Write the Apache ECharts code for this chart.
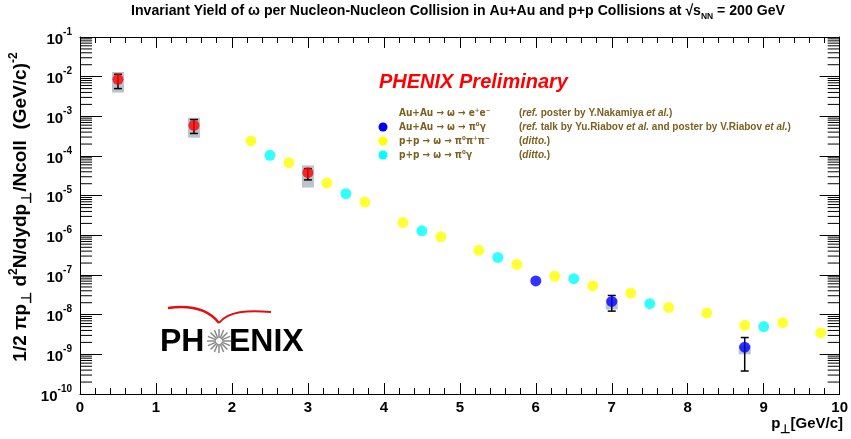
<!DOCTYPE html>
<html><head><meta charset="utf-8">
<script src="https://cdn.jsdelivr.net/npm/echarts@6/dist/echarts.min.js"></script>
<style>html,body{margin:0;padding:0;background:#fff}#c{width:851px;height:439px}</style>
</head><body><div id="c"></div>
<script>
// ---- data ----
const xTicks = [0,1,2,3,4,5,6,7,8,9,10];
const yDecades = [1e-10,1e-9,1e-8,1e-7,1e-6,1e-5,1e-4,1e-3,1e-2,1e-1];

// Au+Au -> omega -> e+e- (red)
const aaEePt   = [0.5, 1.5, 3.0];
const aaEeY    = [8.6e-3, 5.9e-4, 3.8e-5];
const aaEeLo   = [5.0e-3, 3.7e-4, 2.5e-5];
const aaEeHi   = [1.15e-2, 8.3e-4, 4.8e-5];
const aaEeSysLo = [3.98e-3, 2.9e-4, 1.6e-5];
const aaEeSysHi = [1.31e-2, 9.2e-4, 5.8e-5];

// Au+Au -> omega -> pi0 gamma (blue)
const aaPgPt = [6.0, 7.0, 8.75];
const aaPgY  = [7.1e-8, 2.15e-8, 1.51e-9];
const aaPgErrPt = [7.0, 8.75];
const aaPgLo = [1.23e-8, 3.8e-10];
const aaPgHi = [3.05e-8, 2.65e-9];
const aaPgSysLo = [1.35e-8, 1.0e-9];
const aaPgSysHi = [2.4e-8, 1.7e-9];

// p+p -> omega -> pi0 pi+ pi- (yellow)
const pp3Pt = [2.25,2.75,3.25,3.75,4.25,4.75,5.25,5.75,6.25,6.75,7.25,7.75,8.25,8.75,9.25,9.75];
const pp3Y  = [2.4e-4,6.8e-5,2.1e-5,6.9e-6,2.1e-6,9.2e-7,4.2e-7,1.85e-7,9.3e-8,5.3e-8,3.5e-8,1.52e-8,1.1e-8,5.4e-9,6.3e-9,3.5e-9];

// p+p -> omega -> pi0 gamma (cyan)
const ppPgPt = [2.5,3.5,4.5,5.5,6.5,7.5,9.0];
const ppPgY  = [1.04e-4,1.12e-5,1.3e-6,2.78e-7,8.1e-8,1.89e-8,5.0e-9];

// ---- helpers ----
const FONT = 'Liberation Sans';
const zip2 = (a,b) => a.map((v,i)=>[v,b[i]]);
const zip3 = (a,b,c) => a.map((v,i)=>[v,b[i],c[i]]);
const minorVals = [];
for (let k = 0; k < yDecades.length-1; k++) for (let m = 2; m <= 9; m++) minorVals.push(yDecades[k]*m);

const chart = echarts.init(document.getElementById('c'));

function errRender(params, api) {
  const x = api.value(0), lo = api.value(1), hi = api.value(2);
  const a = api.coord([x, lo]), b = api.coord([x, hi]);
  const st = {stroke:'#000', lineWidth:1.5};
  return {type:'group', children:[
    {type:'line', shape:{x1:a[0],y1:a[1],x2:b[0],y2:b[1]}, style:st},
    {type:'line', shape:{x1:a[0]-4,y1:a[1],x2:a[0]+4,y2:a[1]}, style:st},
    {type:'line', shape:{x1:b[0]-4,y1:b[1],x2:b[0]+4,y2:b[1]}, style:st}
  ]};
}
function sysRender(params, api) {
  const x = api.value(0), lo = api.value(1), hi = api.value(2);
  const a = api.coord([x, lo]), b = api.coord([x, hi]);
  return {type:'rect', shape:{x:a[0]-6, y:b[1], width:12, height:a[1]-b[1]}, style:{fill:'#b9c4cc'}};
}
function minorRender(params, api) {
  const v = api.value(0);
  const l = api.coord([0, v]), r = api.coord([10, v]);
  const st = {stroke:'#000', lineWidth:1};
  return {type:'group', children:[
    {type:'line', shape:{x1:l[0],y1:l[1],x2:l[0]+12,y2:l[1]}, style:st},
    {type:'line', shape:{x1:r[0],y1:r[1],x2:r[0]-12,y2:r[1]}, style:st}
  ]};
}

const yLabelRich = {
  b:{fontFamily:FONT, fontWeight:'bold', fontSize:15, color:'#000', lineHeight:20, verticalAlign:'bottom'},
  s:{fontFamily:FONT, fontWeight:'bold', fontSize:10, color:'#000', lineHeight:12, verticalAlign:'top'}
};

const legendRows = [
  {y:113, color:null, a:'Au+Au \u2192 \u03c9 \u2192 e\u207ae\u207b', b:'({i|ref.} poster by Y.Nakamiya {i|et al.})'},
  {y:127, color:'#0000ff', a:'Au+Au \u2192 \u03c9 \u2192 \u03c0\u2070\u03b3', b:'({i|ref.} talk by Yu.Riabov {i|et al.} and poster by V.Riabov {i|et al.})'},
  {y:141, color:'#ffff00', a:'p+p \u2192 \u03c9 \u2192 \u03c0\u2070\u03c0\u207a\u03c0\u207b', b:'({i|ditto.})'},
  {y:155, color:'#00ffff', a:'p+p \u2192 \u03c9 \u2192 \u03c0\u2070\u03b3', b:'({i|ditto.})'}
];
const LEGC = '#7d5f1f';
const graphics = [];
legendRows.forEach(r => {
  if (r.color) graphics.push({type:'circle', shape:{cx:383, cy:r.y, r:4.5}, style:{fill:r.color}, z:10});
  graphics.push({type:'text', x:399, y:r.y, style:{text:r.a, fill:LEGC, font:'bold 10px "DejaVu Sans Condensed", '+FONT, verticalAlign:'middle'}, z:10});
  graphics.push({type:'text', x:519, y:r.y, style:{text:r.b, fill:LEGC, font:'bold 10px '+FONT, verticalAlign:'middle',
    rich:{i:{fontStyle:'italic', fontWeight:'bold', fontSize:10, fontFamily:FONT, fill:LEGC, color:LEGC}}}, z:10});
});
// PHENIX Preliminary
graphics.push({type:'text', x:379, y:82, style:{text:'PHENIX Preliminary', fill:'#ff0000', font:'italic bold 20px '+FONT, verticalAlign:'middle'}, z:10});
// Title
graphics.push({type:'text', x:458, y:12, originX:0, originY:0, scaleX:0.94, style:{
  text:'{t|Invariant Yield of \u03c9 per Nucleon-Nucleon Collision in Au+Au and p+p Collisions at \u221as}{sub|NN}{t| = 200 GeV}',
  align:'center', verticalAlign:'middle',
  rich:{t:{fontFamily:FONT, fontWeight:'bold', fontSize:15, color:'#34349a', lineHeight:18, verticalAlign:'top'},
        sub:{fontFamily:FONT, fontWeight:'bold', fontSize:9, color:'#34349a', lineHeight:18, verticalAlign:'bottom'}}
}, z:10});
// Y axis name
graphics.push({type:'text', x:21, y:207, rotation:Math.PI/2, style:{
  text:'{b|1/2 \u03c0p}{sub|\u22a5}{b| d}{sup|2}{b|N/dydp}{sub|\u22a5}{b|/Ncoll  (GeV/c)}{sup|-2}',
  align:'center', verticalAlign:'middle',
  rich:{b:{fontFamily:FONT, fontWeight:'bold', fontSize:19, color:'#000', lineHeight:26, verticalAlign:'middle'},
        sup:{fontFamily:FONT, fontWeight:'bold', fontSize:12, color:'#000', lineHeight:26, verticalAlign:'top'},
        sub:{fontFamily:FONT, fontWeight:'bold', fontSize:14, color:'#000', lineHeight:26, verticalAlign:'bottom'}}
}, z:10});
// X axis name
graphics.push({type:'text', x:843, y:424, style:{
  text:'{b|p}{sub|\u22a5}{b|[GeV/c]}', align:'right', verticalAlign:'middle',
  rich:{b:{fontFamily:FONT, fontWeight:'bold', fontSize:15, color:'#000', lineHeight:22, verticalAlign:'middle'},
        sub:{fontFamily:FONT, fontWeight:'bold', fontSize:12, color:'#000', lineHeight:24, verticalAlign:'bottom'}}
}, z:10});
// PHENIX logo
graphics.push({type:'bezierCurve', shape:{x1:168, y1:308, cpx1:190, cpy1:305, cpx2:208, cpy2:309, x2:219, y2:323},
  style:{stroke:'#e01010', lineWidth:2.5, fill:null}, z:10});
graphics.push({type:'bezierCurve', shape:{x1:219, y1:323, cpx1:228, cpy1:311, cpx2:248, cpy2:310, x2:271, y2:312},
  style:{stroke:'#e01010', lineWidth:2, fill:null}, z:10});
for (let k = 0; k < 16; k++) {
  const t = k*Math.PI/8;
  graphics.push({type:'line', shape:{x1:219+3*Math.cos(t), y1:341+3*Math.sin(t), x2:219+12*Math.cos(t), y2:341+12*Math.sin(t)},
    style:{stroke:'#8a8a8a', lineWidth:1.5}, z:10});
}
graphics.push({type:'text', x:160, y:342, style:{text:'PH', fill:'#000', font:'bold 32px '+FONT, verticalAlign:'middle'}, z:10});
graphics.push({type:'text', x:229, y:342, style:{text:'ENIX', fill:'#000', font:'bold 32px '+FONT, verticalAlign:'middle'}, z:10});

const xAxisBase = {
  type:'value', min:0, max:10, interval:1,
  axisLine:{show:true, onZero:false, lineStyle:{color:'#000', width:1}},
  axisTick:{show:true, inside:true, length:11, lineStyle:{color:'#000'}},
  minorTick:{show:true, splitNumber:5, length:6, lineStyle:{color:'#000'}},
  splitLine:{show:false}, minorSplitLine:{show:false}
};
const yAxisBase = {
  type:'log', logBase:10, min:1e-10, max:1e-1, interval:1,
  axisLine:{show:true, onZero:false, lineStyle:{color:'#000', width:1}},
  axisTick:{show:true, inside:true, length:22, lineStyle:{color:'#000'}},
  splitLine:{show:false}
};

chart.setOption({
  animation:false,
  backgroundColor:'#fff',
  grid:{left:80, right:8, top:37, bottom:45, containLabel:false},
  xAxis:[
    Object.assign({}, xAxisBase, {position:'bottom',
      axisLabel:{show:true, margin:6, fontFamily:FONT, fontWeight:'bold', fontSize:15, color:'#000'}}),
    Object.assign({}, xAxisBase, {position:'top', axisLabel:{show:false}})
  ],
  yAxis:[
    Object.assign({}, yAxisBase, {position:'left',
      axisLabel:{show:true, margin:8, formatter:v=>'{b|10}{s|'+Math.round(Math.log10(v))+'}', rich:yLabelRich}}),
    Object.assign({}, yAxisBase, {position:'right', axisTick:{show:true, inside:true, length:20, lineStyle:{color:'#000'}}, axisLabel:{show:false}})
  ],
  graphic:graphics,
  series:[
    {type:'custom', name:'minorTicks', renderItem:minorRender, data:minorVals.map(v=>[v]), encode:{y:0}, clip:false, silent:true, z:1},
    {type:'custom', name:'sysAA', renderItem:sysRender, data:zip3(aaEePt, aaEeSysLo, aaEeSysHi), z:2, silent:true},
    {type:'custom', name:'sysAApg', renderItem:sysRender, data:zip3(aaPgErrPt, aaPgSysLo, aaPgSysHi), z:2, silent:true},
    {type:'custom', name:'errAA', renderItem:errRender, data:zip3(aaEePt, aaEeLo, aaEeHi), z:3, silent:true},
    {type:'custom', name:'errAApg', renderItem:errRender, data:zip3(aaPgErrPt, aaPgLo, aaPgHi), z:3, silent:true},
    {type:'scatter', name:'Au+Au ee', data:zip2(aaEePt, aaEeY), symbol:'circle', symbolSize:11, itemStyle:{color:'#ff0000'}, z:5},
    {type:'scatter', name:'Au+Au pg', data:zip2(aaPgPt, aaPgY), symbol:'circle', symbolSize:11, itemStyle:{color:'#0000ff'}, z:5},
    {type:'scatter', name:'p+p 3pi', data:zip2(pp3Pt, pp3Y), symbol:'circle', symbolSize:11, itemStyle:{color:'#ffff00'}, z:5},
    {type:'scatter', name:'p+p pg', data:zip2(ppPgPt, ppPgY), symbol:'circle', symbolSize:11, itemStyle:{color:'#00ffff'}, z:5}
  ]
});
</script></body></html>
